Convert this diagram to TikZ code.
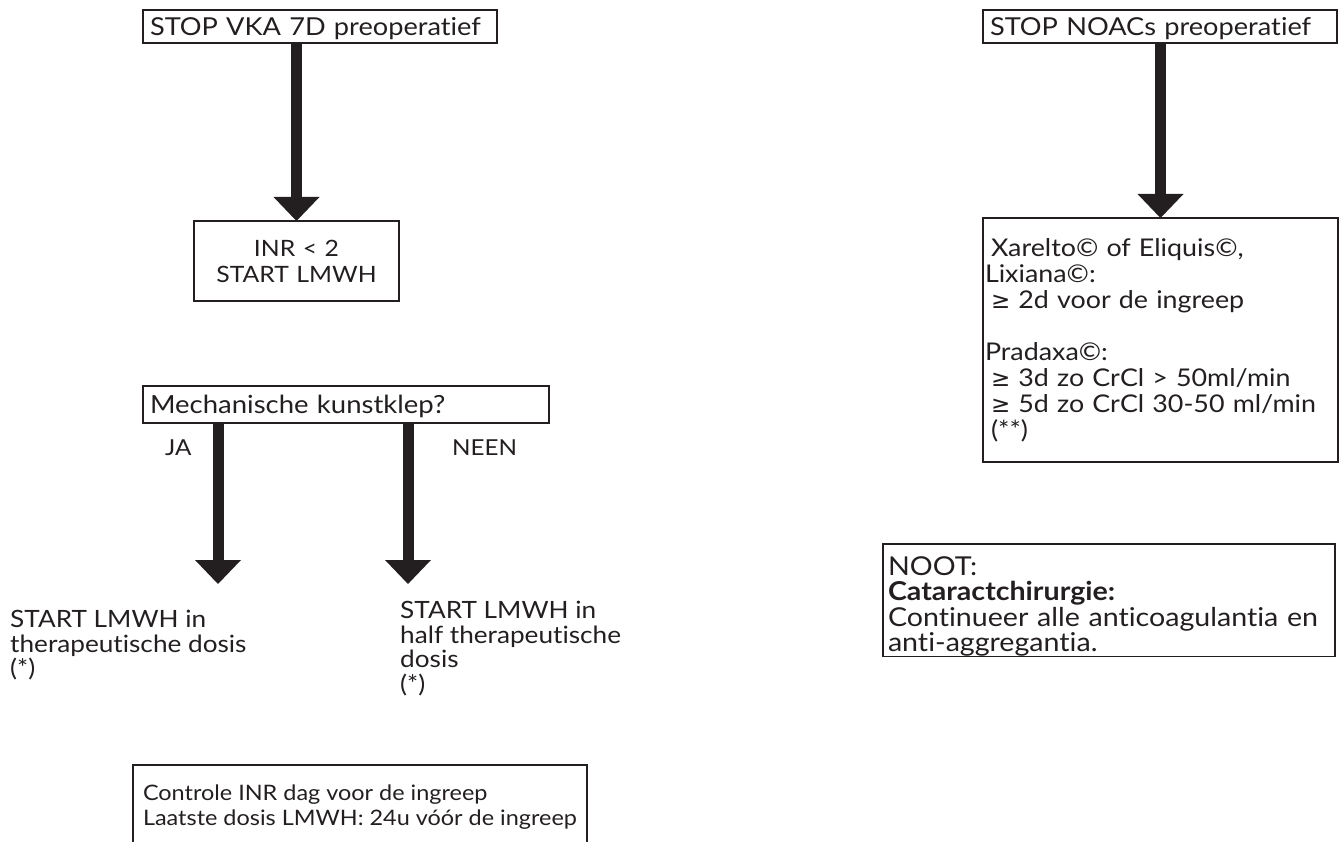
\documentclass[tikz,border=0pt]{standalone}
\usepackage{fontspec}
\setmainfont{Lato}[FakeStretch=1.1,Ligatures={NoCommon,NoRare}]
\newfontfamily\symfont{DejaVu Sans}
\usetikzlibrary{arrows.meta,positioning,calc}
\definecolor{ink}{HTML}{231F20}
\newcommand{\fsz}[2]{\fontsize{#1}{#2}\selectfont}
\newcommand{\geqsym}{{\symfont\fontsize{23}{26}\selectfont ≥}}
\tikzset{box/.style={draw=ink,line width=1.2pt,anchor=north west,outer sep=0pt,inner xsep=7pt,inner ysep=0pt,align=left,text=ink,font=\fsz{24}{26}},txt/.style={anchor=north west,inner sep=0pt,align=left,text=ink,font=\fsz{24}{24.5}},bigarrow/.style={draw=ink,line width=11pt,-{Triangle[length=24pt,width=46pt,line width=0pt]}}}

\begin{document}
\begin{tikzpicture}[x=1pt,y=-1pt]
\useasboundingbox (0,0) rectangle (1339,842);
\clip (0,0) rectangle (1339,842);
% VKA
\node[box,font=\fsz{24.7}{26},text width=340pt,minimum height=33pt,text depth=0pt] (vka) at (143,10) {STOP VKA 7D preoperatief};
\node[box,font=\fsz{22.5}{26},align=center,text width=191pt,minimum height=80pt] (inr) at (194,221) {INR < 2\\START LMWH};
\node[box,font=\fsz{25}{26},text width=392pt,minimum height=37pt,text depth=0pt] (mech) at (143,386) {Mechanische kunstklep?};
\coordinate (jaTip) at (218,584);
\coordinate (neenTip) at (408,584);
\node[txt,font=\fsz{22}{24},anchor=base west] (ja) at (165,455) {JA};
\node[txt,font=\fsz{22}{24},anchor=base west] (neen) at (452,455) {NEEN};
\node[txt,font=\fsz{23.8}{24.5}] (ther) at (10,610) {START LMWH in\\therapeutische dosis\\(*)};
\node[txt,font=\fsz{23.8}{24.5}] (half) at (400,601) {START LMWH in\\half therapeutische\\dosis\\(*)};
\node[box,font=\fsz{21.3}{25},minimum width=454pt,inner xsep=0pt,inner ysep=20pt,text depth=60pt] (ctrl) at (133,765) {Controle INR dag voor de ingreep\\Laatste dosis LMWH: 24u vóór de ingreep};
% NOACs
\node[box,font=\fsz{24.7}{26},text width=340pt,minimum height=33pt,text depth=0pt] (noac) at (983,10) {STOP NOACs preoperatief};
\node[box,font=\fsz{24.4}{26},inner xsep=2pt,text width=351pt,minimum height=244pt] (drug) at (983,218) {\hspace*{6pt}Xarelto© of Eliquis©,\\Lixiana©:\\\hspace*{6pt}\geqsym{} 2d voor de ingreep\\[26pt]Pradaxa©:\\\hspace*{6pt}\geqsym{} 3d zo CrCl > 50ml/min\\\hspace*{6pt}\geqsym{} 5d zo CrCl 30-50 ml/min\\\hspace*{6pt}(**)};
\node[box,font=\fsz{26}{25.5},inner xsep=5pt,text width=442pt,minimum height=111pt,text height=31pt] (noot) at (883,544) {NOOT:\\\textbf{Cataractchirurgie:}\\Continueer alle anticoagulantia en\\anti-aggregantia.};
% pijlen
\draw[bigarrow] (vka.south -| inr.north) -- (inr.north);
\draw[bigarrow] (mech.south -| jaTip) -- (jaTip);
\draw[bigarrow] (mech.south -| neenTip) -- (neenTip);
\draw[bigarrow] (noac.south -| drug.north) -- (drug.north);
\end{tikzpicture}
\end{document}
